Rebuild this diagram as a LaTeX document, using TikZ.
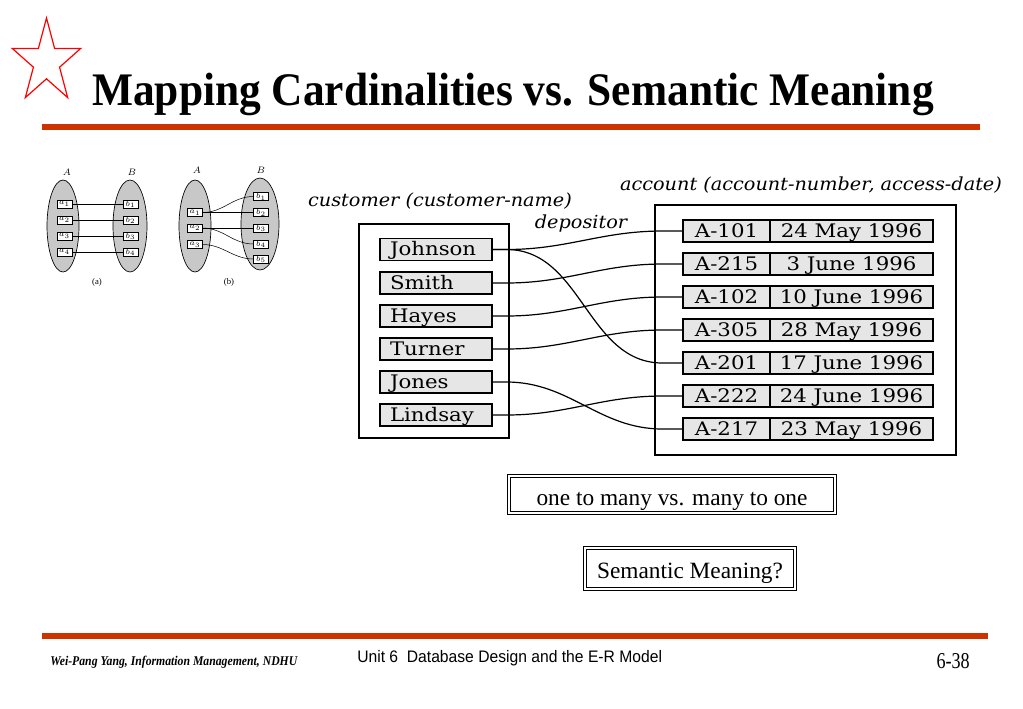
\documentclass[tikz,border=0pt]{standalone}
\usepackage{fontspec}
\setmainfont{Liberation Serif}
\setsansfont{Liberation Sans}
\newfontfamily\palfont{DejaVu Serif}
\usetikzlibrary{calc}

\definecolor{barred}{RGB}{204,51,0}
\definecolor{boxgray}{RGB}{230,230,230}
\definecolor{setgray}{RGB}{200,200,200}

\newcommand\wide[1]{\scalebox{1.07}[1]{#1}}
\newcommand\cellwide[1]{\scalebox{1.14}[1]{#1}}

\tikzset{
  barline/.style={barred, line width=4.5pt},
  cellbox/.style={draw, thick, fill=boxgray, minimum height=16.5pt, inner sep=0pt, text height=10.2pt, text depth=0.6pt, font=\palfont\fontsize{14}{16}\selectfont},
  namebox/.style={cellbox, text width=69pt, inner xsep=7.5pt, align=left},
  numbox/.style={cellbox, minimum width=65.25pt},
  datebox/.style={cellbox, minimum width=122.25pt},
  elbox/.style={draw, fill=white, line width=0.4pt, minimum width=11pt, minimum height=6pt, inner sep=0pt, font=\fontsize{6}{6}\selectfont},
  setshape/.style={draw, fill=setgray, line width=0.5pt},
  setname/.style={font=\fontsize{7.5}{8}\selectfont},
  tag/.style={font=\palfont\itshape\fontsize{13.5}{16}\selectfont},
  link/.style={line width=0.9pt},
  dblbox/.style={draw, double, line width=0.8pt, double distance=1.3pt, inner sep=0pt},
  notetext/.style={inner sep=0pt, font=\fontsize{17.5}{20}\selectfont},
}

\begin{document}
\begin{tikzpicture}[x=0.75pt,y=0.75pt,yscale=-1,xscale=1]
\useasboundingbox (0,0) rectangle (1023,708);

%Shape: Star
\draw[red, line width=0.9pt, line join=miter] (46.5,18)
  \foreach \i in {1,...,9} {-- ({46.5+36*(1-0.618*mod(\i,2))*cos(-90+36*\i)},{62+44*(1-0.618*mod(\i,2))*sin(-90+36*\i)})} -- cycle;

%Title
\node[anchor=base west, font=\bfseries\fontsize{35}{42}\selectfont, inner sep=0pt] (title) at (92,105) {\scalebox{0.93}[1]{Mapping Cardinalities vs. Semantic Meaning}};
%Straight Lines
\draw[barline] (42,127) -- (980,127);
\draw[barline] (42,636) -- (988,636);

%Footer
\node[anchor=base west, inner sep=0pt, font=\bfseries\itshape\fontsize{10}{12}\selectfont] (author) at (50,665) {\scalebox{0.88}[1]{Wei-Pang Yang, Information Management, NDHU}};
\node[anchor=base west, inner sep=0pt, font=\sffamily\fontsize{12.5}{14}\selectfont] (unit) at (357,662) {\scalebox{0.94}[1]{Unit 6\ \ Database Design and the E-R Model}};
\node[anchor=base east, inner sep=0pt, font=\fontsize{17}{20}\selectfont] (page) at (970,668) {\scalebox{0.8}[1]{6-38}};

%Diagram (a)
\draw[setshape] (63,226) ellipse [x radius=16, y radius=46];
\draw[setshape] (130,226) ellipse [x radius=17, y radius=46];
\node[setname] (la) at (67,172) {$A$};
\node[setname] (lb) at (132,172) {$B$};
\foreach \k/\y in {1/204,2/220,3/236,4/252} {
  \node[elbox] (a\k) at (64.5,\y) {$a_\k$};
  \node[elbox] (b\k) at (130.5,\y) {$b_\k$};
  \draw[line width=0.4pt] (a\k.east) -- (b\k.west);
}
\node[font=\fontsize{6.5}{7}\selectfont] (capa) at (97,282) {(a)};

%Diagram (b)
\draw[setshape] (195,226) ellipse [x radius=16, y radius=46];
\draw[setshape] (260,224) ellipse [x radius=19, y radius=46];
\node[setname] (la2) at (197,170) {$A$};
\node[setname] (lb2) at (261,170) {$B$};
\foreach \k/\y in {1/212.5,2/228,3/244.5}
  \node[elbox] (c\k) at (195,\y) {$a_\k$};
\foreach \k/\y in {1/196.5,2/212.5,3/228,4/244,5/259}
  \node[elbox] (d\k) at (261,\y) {$b_\k$};
\draw[line width=0.4pt] (c1.east) to[out=0,in=180] (d1.west);
\draw[line width=0.4pt] (c1.east) -- (d2.west);
\draw[line width=0.4pt] (c2.east) -- (d3.west);
\draw[line width=0.4pt] (c2.east) to[out=0,in=180] (d4.west);
\draw[line width=0.4pt] (c3.east) to[out=0,in=180] (d5.west);
\node[font=\fontsize{6.5}{7}\selectfont] (capb) at (229,282) {(b)};

%customer / account frames
\draw[line width=0.8pt] (359,224) rectangle (509,438);
\draw[line width=0.8pt] (655,205) rectangle (956,455);
\node[tag] (custlabel) at (440,201) {\wide{customer (customer-name)}};
\node[tag] (deplabel) at (581,224) {\wide{depositor}};
\node[tag] (acclabel) at (811,185) {\wide{account (account-number, access-date)}};

%Names
\node[namebox] (johnson) at (436,249.5) {\cellwide{Johnson}};
\node[namebox] (smith) at (436,283) {\cellwide{Smith}};
\node[namebox] (hayes) at (436,316) {\cellwide{Hayes}};
\node[namebox] (turner) at (436,349) {\cellwide{Turner}};
\node[namebox] (jones) at (436,382) {\cellwide{Jones}};
\node[namebox] (lindsay) at (436,415) {\cellwide{Lindsay}};

%Accounts
\foreach \n/\d/\y in {101/24 May 1996/231, 215/3 June 1996/264, 102/10 June 1996/297, 305/28 May 1996/330, 201/17 June 1996/363, 222/24 June 1996/396, 217/23 May 1996/429} {
  \node[numbox] (acc\n) at (726.5,\y) {\cellwide{A-\n}};
  \node[datebox] (date\n) at (851.5,\y) {\cellwide{\d}};
}

%depositor links
\foreach \s/\t in {johnson/101, johnson/201, smith/215, hayes/102, turner/305, jones/217, lindsay/222}
  \draw[link] (\s.east) -- ++(14,0) to[out=0,in=180] ($(acc\t.west)+(-20,0)$) -- (acc\t.west);

%Notes
\node[dblbox, minimum width=244pt, minimum height=27.5pt] (note1) at (672,494.5) {};
\node[notetext, anchor=base] (note1text) at (672,505) {one to many vs. many to one};
\node[dblbox, minimum width=158pt, minimum height=30.5pt] (note2) at (690,568.5) {};
\node[notetext, anchor=base] (note2text) at (690,578) {Semantic Meaning?};

\end{tikzpicture}
\end{document}
